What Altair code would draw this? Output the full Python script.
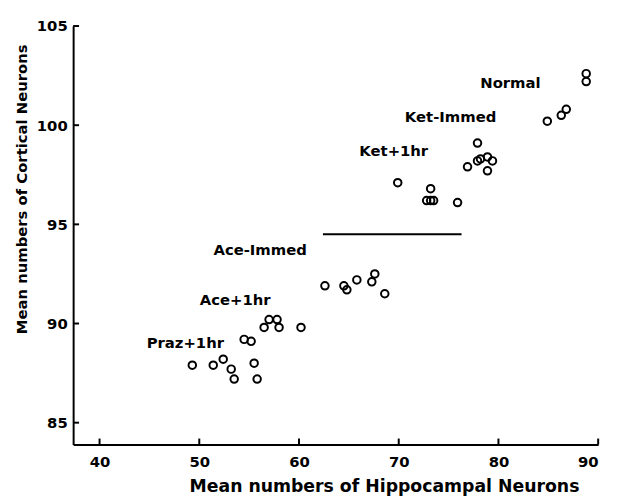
import altair as alt
import pandas as pd

# Data
hippocampal = [49.3, 51.4, 52.4, 53.2, 53.5, 55.5, 55.8, 54.5, 55.2,
               56.5, 57.0, 57.8, 58.0, 60.2,
               62.6, 64.5, 64.8, 65.8, 67.3, 67.6, 68.6,
               69.9, 73.2, 72.8, 73.5, 73.2, 75.9,
               76.9, 77.9, 77.9, 78.2, 78.9, 79.4, 78.9,
               84.9, 86.3, 86.8, 88.8, 88.8]
cortical = [87.9, 87.9, 88.2, 87.7, 87.2, 88.0, 87.2, 89.2, 89.1,
            89.8, 90.2, 90.2, 89.8, 89.8,
            91.9, 91.9, 91.7, 92.2, 92.1, 92.5, 91.5,
            97.1, 96.8, 96.2, 96.2, 96.2, 96.1,
            97.9, 99.1, 98.2, 98.3, 98.4, 98.2, 97.7,
            100.2, 100.5, 100.8, 102.6, 102.2]

label_text = ["Normal", "Ket-Immed", "Ket+1hr", "Ace-Immed", "Ace+1hr", "Praz+1hr"]
label_x = [81.2, 75.2, 69.5, 56.1, 53.6, 48.6]
label_y = [102.1, 100.4, 98.7, 93.7, 91.2, 89.0]

line_x = [62.4]
line_x2 = [76.3]
line_y = [94.5]

x_ticks = [40, 50, 60, 70, 80, 90]
y_ticks = [85, 90, 95, 100, 105]

W, H = 532, 424
FONT = "DejaVu Sans"

pts = pd.DataFrame({"h": hippocampal, "c": cortical})
labs = pd.DataFrame({"t": label_text, "h": label_x, "c": label_y})
seg = pd.DataFrame({"h": line_x, "h2": line_x2, "c": line_y})
xt = pd.DataFrame({"h": x_ticks})
yt = pd.DataFrame({"c": y_ticks})

xscale = alt.Scale(domain=[37.35, 90], nice=False, zero=False)
yscale = alt.Scale(domain=[83.9, 105], nice=False, zero=False)

x_enc = alt.X("h:Q", scale=xscale,
              axis=alt.Axis(title="Mean numbers of Hippocampal Neurons", values=x_ticks,
                            ticks=False, labelPadding=10, titleX=315, titleY=43,
                            titleAlign="center", titleBaseline="middle",
                            titleFontSize=17.5, titleFontWeight="bold"))
y_enc = alt.Y("c:Q", scale=yscale,
              axis=alt.Axis(title="Mean numbers of Cortical Neurons", values=y_ticks,
                            ticks=False, labelPadding=6, titleX=-52, titleY=165,
                            titleAngle=270, titleAlign="center", titleBaseline="middle",
                            titleFontSize=15, titleFontWeight="bold"))

points = alt.Chart(pts).mark_point(
    shape="circle", filled=False, stroke="black", strokeWidth=2, size=58, opacity=1
).encode(x=x_enc, y=y_enc)

texts = alt.Chart(labs).mark_text(
    font=FONT, fontSize=15, fontWeight="bold", color="black", align="center", baseline="middle"
).encode(x=x_enc, y=y_enc, text="t:N")

hline = alt.Chart(seg).mark_rule(color="black", strokeWidth=2).encode(
    x=x_enc, x2="h2:Q", y=y_enc,
)

xtick = alt.Chart(xt).mark_rule(color="black", strokeWidth=2).encode(
    x=x_enc, y=alt.value(H), y2=alt.value(H - 6),
)

ytick = alt.Chart(yt).mark_rule(color="black", strokeWidth=2).encode(
    y=y_enc, x=alt.value(0), x2=alt.value(6),
)

chart = alt.layer(points, texts, hline, xtick, ytick).properties(
    width=W, height=H,
    autosize=alt.AutoSizeParams(type="none"),
    padding={"left": 66, "top": 15, "right": 13, "bottom": 55},
).configure_view(stroke=None).configure_axis(
    grid=False, domainColor="black", domainWidth=2,
    labelFont=FONT, labelFontSize=15, labelFontWeight="bold", labelColor="black",
    titleFont=FONT, titleColor="black",
)

chart.save("out.html", embed_options={"renderer": "svg", "actions": False})
